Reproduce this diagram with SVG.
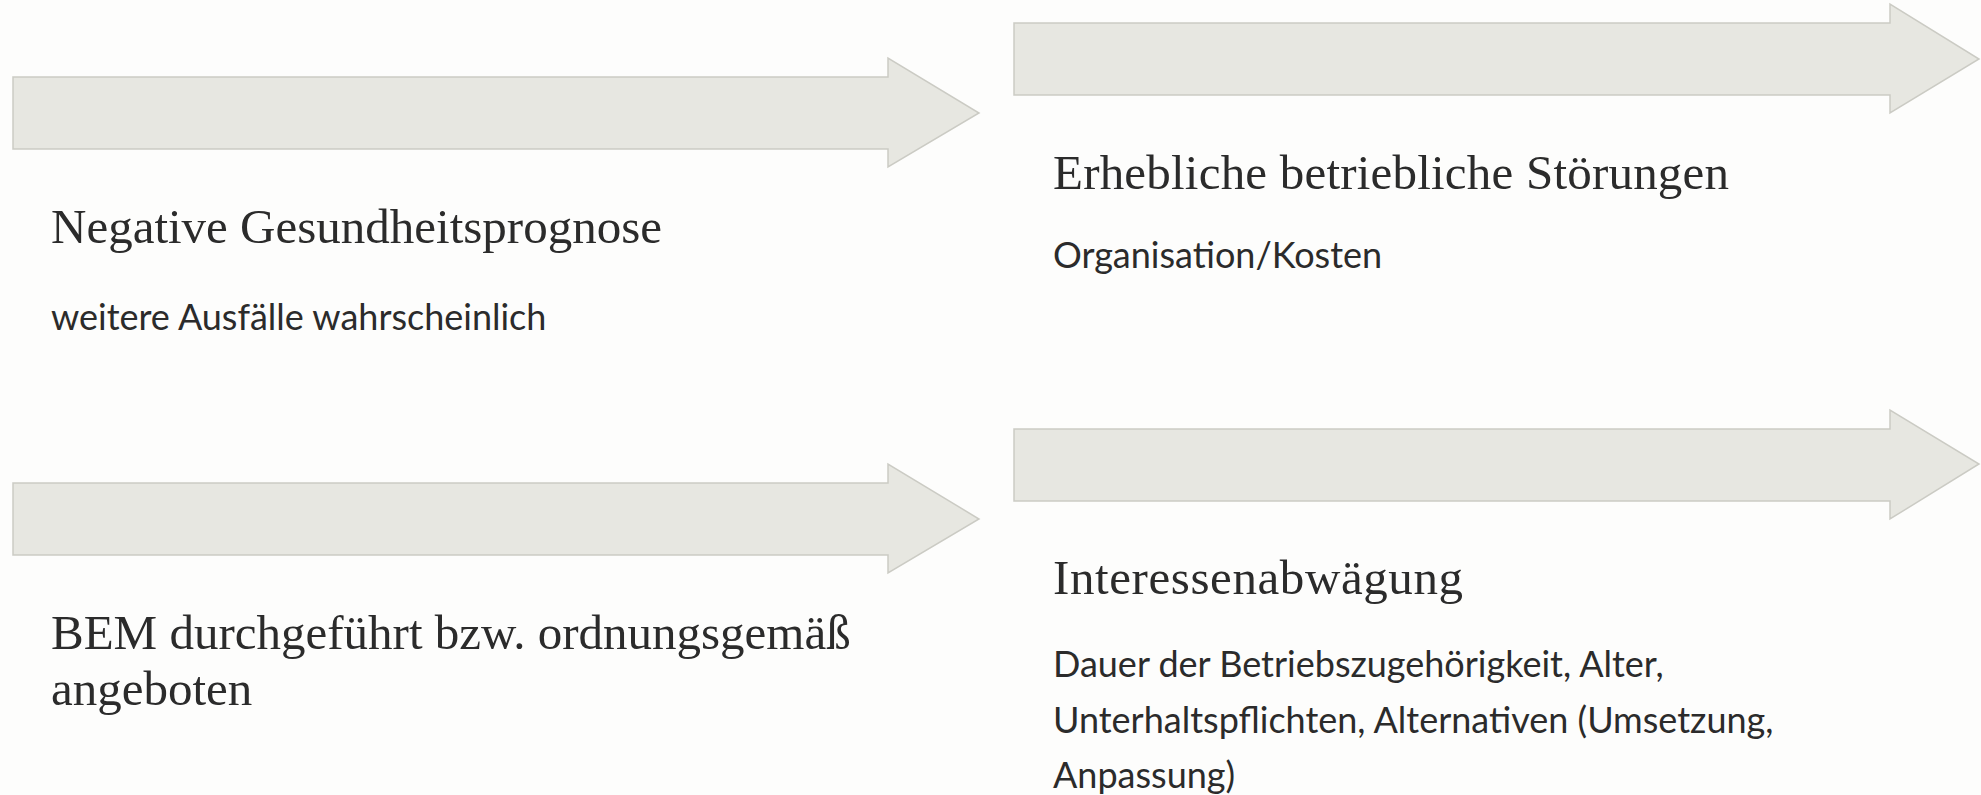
<svg xmlns="http://www.w3.org/2000/svg" width="1981" height="795" viewBox="0 0 1981 795">
<style>
.arrow{fill:#e7e7e1;stroke:#cbcbc4;stroke-width:1.5}
.title{font-family:"Liberation Serif",serif;font-size:49px;fill:#2b2b2b}
.sub{font-family:Lato,"Liberation Sans",sans-serif;font-size:36px;fill:#2b2b2b}
</style>
<rect width="1981" height="795" fill="#fdfdfc"/>
<g id="connectors">
<polygon class="arrow" points="13,77 888,77 888,58 979,113 888,167 888,149 13,149"/>
<polygon class="arrow" points="1014,23 1890,23 1890,4 1979,59 1890,113 1890,95 1014,95"/>
<polygon class="arrow" points="13,483 888,483 888,464 979,519 888,573 888,555 13,555"/>
<polygon class="arrow" points="1014,429 1890,429 1890,410 1979,464 1890,519 1890,501 1014,501"/>
</g>
<g id="node1">
<text class="title" x="51" y="243">Negative Gesundheitsprognose</text>
<text class="sub" x="51" y="330">weitere Ausfälle wahrscheinlich</text>
</g>
<g id="node2">
<text class="title" x="1053" y="189" textLength="676" lengthAdjust="spacing">Erhebliche betriebliche Störungen</text>
<text class="sub" x="1053" y="268">Organisation/Kosten</text>
</g>
<g id="node3">
<text class="title" x="51" y="649">BEM durchgeführt bzw. ordnungsgemäß</text>
<text class="title" x="51" y="705">angeboten</text>
</g>
<g id="node4">
<text class="title" x="1053" y="594" textLength="410" lengthAdjust="spacing">Interessenabwägung</text>
<text class="sub" x="1053" y="677">Dauer der Betriebszugehörigkeit, Alter,</text>
<text class="sub" x="1053" y="733">Unterhaltspflichten, Alternativen (Umsetzung,</text>
<text class="sub" x="1053" y="788">Anpassung)</text>
</g>
</svg>
